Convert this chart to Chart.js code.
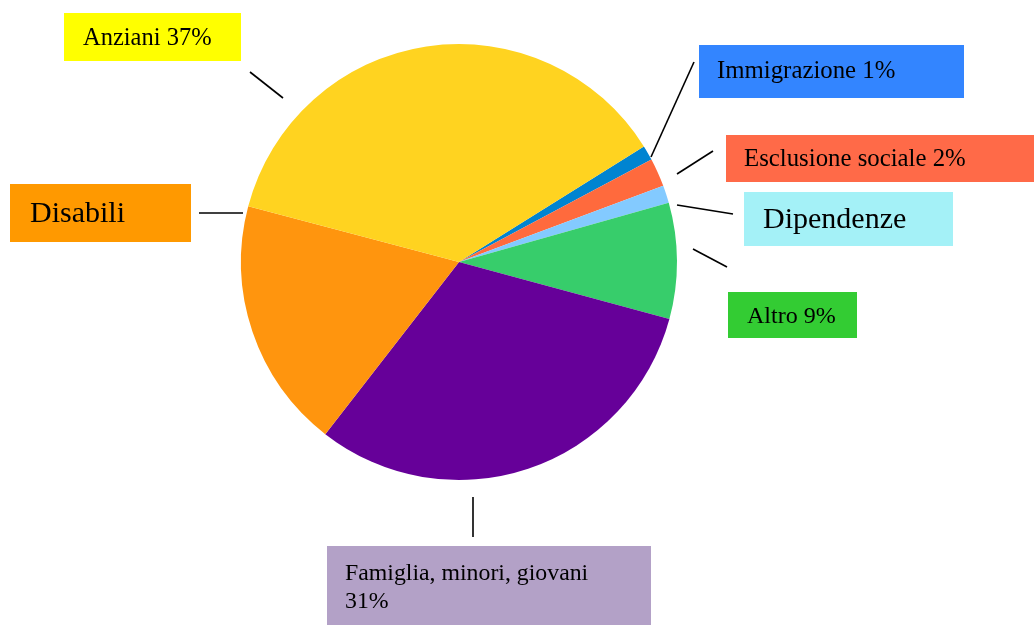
<!DOCTYPE html>
<html>
<head>
<meta charset="utf-8">
<script src="https://cdn.jsdelivr.net/npm/chart.js@4/dist/chart.umd.min.js"></script>
<style>
  html, body { margin: 0; padding: 0; background: #fff; }
  canvas { display: block; }
</style>
</head>
<body>
<canvas id="pieChart" width="1034" height="625"></canvas>
<script>
// ── Data ─────────────────────────────────────────────────────────────────────

const categories = ['Immigrazione', 'Esclusione sociale', 'Dipendenze', 'Altro',
                    'Famiglia, minori, giovani', 'Disabili', 'Anziani'];
const shares     = [1.1, 2.1, 1.3, 8.6, 31.3, 18.6, 37.0];
const labelTexts = [['Immigrazione 1%'], ['Esclusione sociale 2%'], ['Dipendenze'], ['Altro 9%'],
                    ['Famiglia, minori, giovani', '31%'], ['Disabili'], ['Anziani 37%']];

const sliceColors = ['#0084d1', '#ff6a3d', '#83caff', '#37cd6b', '#660099', '#ff950e', '#ffd320'];
const boxColors   = ['#3385ff', '#ff6a48', '#a4f1f7', '#33cc33', '#b3a1c7', '#ff9900', '#ffff00'];

// ── Callout layout (boxes + leader lines), same order as categories ─────────

const callouts = [
    { box: [699, 45, 265, 53],  text: [717, 78],  size: 24.8, line: [694, 62, 651, 157] },
    { box: [726, 135, 308, 47], text: [744, 166], size: 24.8, line: [713, 151, 677, 174] },
    { box: [744, 192, 209, 54], text: [763, 228], size: 30,   line: [677, 205, 733, 214] },
    { box: [728, 292, 129, 46], text: [747, 323], size: 24,   line: [693, 249, 727, 267] },
    { box: [327, 546, 324, 79], text: [345, 580], size: 23.8, line: [473, 497, 473, 537], lh: 28 },
    { box: [10, 184, 181, 58],  text: [30, 222],  size: 30,   line: [199, 213, 243, 213] },
    { box: [64, 13, 177, 48],   text: [83, 45],   size: 24.5, line: [250, 72, 283, 98] }
];

const calloutPlugin = {
    id: 'callouts',
    afterDraw(chart) {
        const ctx = chart.ctx;
        ctx.save();
        callouts.forEach((c, i) => {
            const [bx, by, bw, bh] = c.box;
            ctx.fillStyle = boxColors[i];
            ctx.fillRect(bx, by, bw, bh);

            ctx.strokeStyle = '#000';
            ctx.lineWidth = 1.6;
            ctx.beginPath();
            ctx.moveTo(c.line[0], c.line[1]);
            ctx.lineTo(c.line[2], c.line[3]);
            ctx.stroke();

            ctx.fillStyle = '#000';
            ctx.font = c.size + 'px "Liberation Serif", "Times New Roman", serif';
            ctx.textBaseline = 'alphabetic';
            ctx.textAlign = 'left';
            labelTexts[i].forEach((t, k) => {
                ctx.fillText(t, c.text[0], c.text[1] + k * (c.lh || 0));
            });
        });
        ctx.restore();
    }
};

// ── Chart ────────────────────────────────────────────────────────────────────

new Chart(document.getElementById('pieChart').getContext('2d'), {
    type: 'pie',
    data: {
        labels: categories,
        datasets: [{
            data: shares,
            backgroundColor: sliceColors,
            borderWidth: 0
        }]
    },
    options: {
        responsive: false,
        animation: false,
        rotation: 58,
        layout: { padding: { left: 241, right: 357, top: 44, bottom: 145 } },
        plugins: {
            legend: { display: false },
            tooltip: { enabled: false }
        }
    },
    plugins: [calloutPlugin]
});
</script>
</body>
</html>
